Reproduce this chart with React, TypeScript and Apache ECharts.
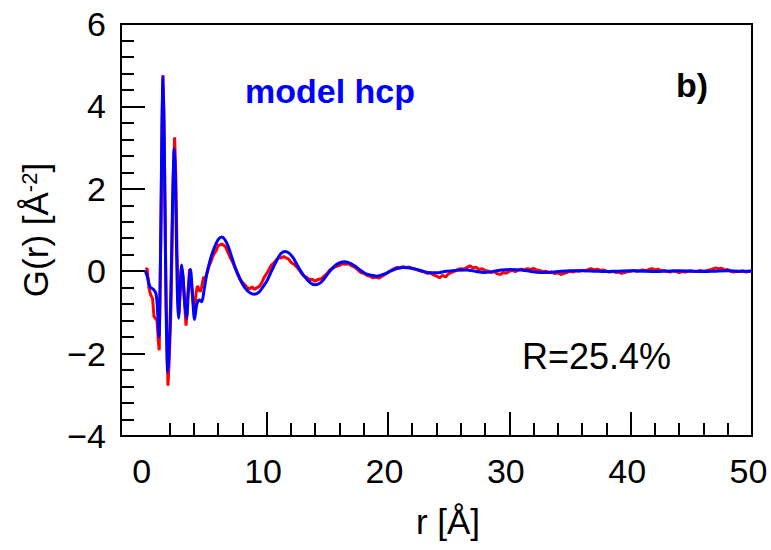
import React, { useEffect, useRef } from "react";
import * as echarts from "echarts";

const FONT = "'Liberation Sans', Arial, Helvetica, sans-serif";

// Experimental G(r) (red, noisy) as [r, G]
const redCurve: [number, number][] = [
  [0, 0.05], [0.15, 0.06], [0.3, -0.4], [0.45, -0.58], [0.6, -0.66], [0.72, -1.1], [0.85, -1.15], [0.97, -1.2],
  [1.08, -1.7], [1.15, -1.92], [1.22, -0.5], [1.3, 1.2], [1.38, 3.5], [1.46, 4.76], [1.54, 3.6], [1.62, 1.8],
  [1.72, -0.8], [1.87, -2.78], [1.97, -2.2], [2.1, -1.1], [2.2, 0.5], [2.3, 2.2], [2.42, 3.25], [2.52, 2.3],
  [2.62, 0.4], [2.78, -1.02], [2.88, -0.5], [2.97, 0.0], [3.1, -0.1], [3.22, -0.7], [3.36, -1.32], [3.5, -0.6],
  [3.65, 0.05], [3.8, -0.3], [3.95, -0.8], [4.06, -0.9], [4.18, -0.55], [4.29, -0.36], [4.4, -0.42], [4.53, -0.5],
  [4.65, -0.38], [4.8, -0.15], [4.95, -0.17], [5.1, -0.04], [5.25, 0.12], [5.4, 0.22], [5.55, 0.35], [5.7, 0.44],
  [5.85, 0.5], [6.0, 0.62], [6.15, 0.64], [6.3, 0.66], [6.45, 0.63], [6.6, 0.6], [6.75, 0.5], [6.9, 0.4],
  [7.05, 0.3], [7.2, 0.22], [7.4, 0.08], [7.6, -0.05], [7.8, -0.18], [8.0, -0.27], [8.2, -0.33], [8.4, -0.4],
  [8.6, -0.43], [8.8, -0.38], [9.0, -0.44], [9.2, -0.4], [9.4, -0.37], [9.6, -0.28], [9.8, -0.15], [10.0, -0.06],
  [10.2, 0.04], [10.4, 0.15], [10.6, 0.2], [10.8, 0.27], [11.0, 0.33], [11.2, 0.32], [11.4, 0.36], [11.6, 0.32],
  [11.8, 0.3], [12.0, 0.22], [12.25, 0.17], [12.5, 0.1], [12.75, 0.0], [13.0, -0.1], [13.25, -0.14], [13.5, -0.2],
  [13.75, -0.2], [14.0, -0.24], [14.25, -0.2], [14.5, -0.18], [14.75, -0.12], [15.0, -0.05], [15.25, 0.04], [15.5, 0.08],
  [15.75, 0.12], [16.0, 0.14], [16.25, 0.18], [16.5, 0.17], [16.75, 0.18], [17.0, 0.13], [17.25, 0.1], [17.5, 0.04],
  [17.75, -0.03], [18.0, -0.05], [18.25, -0.1], [18.5, -0.12], [18.75, -0.16], [19.0, -0.14], [19.25, -0.17], [19.5, -0.12],
  [19.75, -0.08], [20.0, -0.03], [20.25, 0.02], [20.5, 0.06], [20.75, 0.09], [21.0, 0.08], [21.25, 0.11], [21.5, 0.09],
  [21.75, 0.1], [22.0, 0.07], [22.25, 0.05], [22.5, 0.02], [22.75, 0.0], [23.0, -0.02], [23.25, -0.05], [23.5, -0.04],
  [23.75, -0.09], [24.0, -0.12], [24.25, -0.16], [24.5, -0.1], [24.75, -0.14], [25.0, -0.06], [25.25, -0.03], [25.5, 0.0],
  [25.75, 0.04], [26.0, 0.06], [26.25, 0.05], [26.5, 0.09], [26.75, 0.13], [27.0, 0.08], [27.25, 0.1], [27.5, 0.04],
  [27.75, 0.06], [28.0, 0.02], [28.25, 0.0], [28.5, -0.03], [28.75, -0.01], [29.0, -0.06], [29.25, -0.08], [29.5, -0.03],
  [29.75, -0.05], [30.0, 0.0], [30.25, 0.02], [30.5, -0.01], [30.75, 0.03], [31.0, 0.05], [31.25, 0.03], [31.5, 0.06],
  [31.75, 0.04], [32.0, 0.07], [32.25, 0.03], [32.5, 0.02], [32.75, -0.01], [33.0, 0.0], [33.25, -0.03], [33.5, -0.02],
  [33.75, -0.06], [34.0, -0.04], [34.25, -0.08], [34.5, -0.05], [34.75, -0.03], [35.0, 0.0], [35.25, -0.02], [35.5, 0.01],
  [35.75, 0.0], [36.0, 0.02], [36.25, 0.01], [36.5, 0.04], [36.75, 0.06], [37.0, 0.03], [37.25, 0.05], [37.5, 0.02],
  [37.75, 0.03], [38.0, 0.0], [38.25, -0.02], [38.5, 0.0], [38.75, -0.03], [39.0, -0.02], [39.25, -0.05], [39.5, -0.03],
  [39.75, -0.01], [40.0, 0.0], [40.25, 0.02], [40.5, 0.0], [40.75, 0.01], [41.0, 0.03], [41.25, 0.01], [41.5, 0.04],
  [41.75, 0.06], [42.0, 0.03], [42.25, 0.05], [42.5, 0.01], [42.75, 0.02], [43.0, 0.0], [43.25, -0.02], [43.5, 0.01],
  [43.75, -0.01], [44.0, -0.03], [44.25, -0.01], [44.5, -0.02], [44.75, 0.0], [45.0, 0.01], [45.25, -0.01], [45.5, 0.0],
  [45.75, 0.02], [46.0, 0.0], [46.25, 0.01], [46.5, 0.03], [46.75, 0.05], [47.0, 0.08], [47.25, 0.06], [47.5, 0.07],
  [47.75, 0.03], [48.0, 0.04], [48.25, 0.0], [48.5, -0.02], [48.75, 0.0], [49.0, -0.01], [49.25, 0.01], [49.5, -0.02],
  [49.75, 0.0], [50.0, 0.01],
];

// Model hcp G(r) (blue, smooth) as [r, G]
const blueCurve: [number, number][] = [
  [0, 0.02], [0.17, -0.13], [0.39, -0.38], [0.66, -0.44], [0.88, -0.54], [1.0, -0.9], [1.13, -1.59], [1.22, -0.4],
  [1.3, 1.5], [1.38, 3.6], [1.46, 4.72], [1.54, 3.7], [1.62, 1.6], [1.72, -0.9], [1.85, -2.45], [1.95, -2.0],
  [2.09, -0.8], [2.2, 0.9], [2.3, 2.3], [2.39, 2.98], [2.48, 2.3], [2.58, 0.5], [2.66, -0.7], [2.74, -1.14],
  [2.86, -0.5], [3.0, 0.15], [3.12, -0.15], [3.25, -0.75], [3.41, -1.14], [3.55, -0.5], [3.72, 0.05], [3.88, -0.5],
  [4.06, -1.17], [4.25, -0.8], [4.45, -0.7], [4.65, -0.74], [4.85, -0.45], [5.06, -0.08], [5.33, 0.25], [5.6, 0.5],
  [5.88, 0.7], [6.1, 0.8], [6.32, 0.83], [6.55, 0.77], [6.84, 0.6], [7.15, 0.32], [7.5, 0.02], [7.85, -0.22],
  [8.2, -0.4], [8.6, -0.52], [9.0, -0.56], [9.4, -0.5], [9.7, -0.38], [10.0, -0.25], [10.4, 0.0], [10.8, 0.24],
  [11.15, 0.42], [11.5, 0.48], [11.85, 0.44], [12.2, 0.32], [12.6, 0.11], [13.0, -0.08], [13.3, -0.19], [13.65, -0.29],
  [14.0, -0.33], [14.35, -0.3], [14.7, -0.2], [15.1, -0.04], [15.5, 0.1], [16.0, 0.2], [16.45, 0.23], [16.9, 0.19],
  [17.3, 0.12], [17.7, 0.03], [18.1, -0.05], [18.6, -0.1], [19.1, -0.12], [19.6, -0.08], [20.2, 0.0], [20.8, 0.07],
  [21.3, 0.09], [21.8, 0.08], [22.4, 0.04], [23.0, -0.01], [23.5, -0.04], [24.0, -0.04], [24.8, 0.0], [25.6, 0.02],
  [26.5, 0.03], [27.2, 0.0], [27.9, -0.03], [28.6, -0.01], [29.4, 0.03], [30.1, 0.04], [30.9, 0.03], [31.7, 0.0],
  [32.5, -0.03], [33.2, -0.03], [34.0, -0.01], [35.0, 0.01], [36.0, 0.01], [37.0, 0.0], [38.0, -0.01], [39.0, 0.0],
  [40.0, 0.01], [41.0, 0.0], [42.0, -0.01], [43.0, 0.0], [44.0, 0.01], [45.0, 0.0], [46.0, -0.01], [47.0, 0.0],
  [48.0, 0.01], [49.0, 0.0], [50.0, 0.0],
];

const xMajorTicks = [10, 20, 30, 40];
const xMinorTicks = [2, 4, 6, 8, 12, 14, 16, 18, 22, 24, 26, 28, 32, 34, 36, 38, 42, 44, 46, 48];
const xLabels = [0, 10, 20, 30, 40, 50];

const fmt = (v: number) => (v < 0 ? "\u2212" + Math.abs(v) : String(v));

export default function App() {
  const ref = useRef<HTMLDivElement>(null);
  useEffect(() => {
    if (!ref.current) return;
    const chart = echarts.init(ref.current, null, { renderer: "svg" });
    const black = "#000";
    chart.setOption({
      animation: false,
      backgroundColor: "#fff",
      grid: {
        left: 121, right: 19, top: 24, bottom: 114,
        show: true, borderColor: black, borderWidth: 2,
        containLabel: false, outerBoundsMode: "none",
      },
      xAxis: [
        {
          type: "value", min: -2, max: 50, position: "bottom",
          name: "r [Å]", nameLocation: "middle", nameGap: 68,
          nameTextStyle: { fontSize: 35, fontFamily: FONT, color: black, padding: [0, 0, 0, 23] },
          axisLine: { show: true, onZero: false, lineStyle: { color: black, width: 2 } },
          axisTick: { show: true, inside: true, length: 24, customValues: xMajorTicks, lineStyle: { color: black, width: 2 } },
          axisLabel: { customValues: xLabels, fontSize: 34, fontFamily: FONT, color: black, margin: 18, padding: [0, 7, 0, 0], formatter: fmt },
          splitLine: { show: false },
        },
        {
          type: "value", min: -2, max: 50, position: "bottom",
          axisLine: { show: false, onZero: false },
          axisTick: { show: true, inside: true, length: 13, customValues: xMinorTicks, lineStyle: { color: black, width: 2 } },
          axisLabel: { show: false },
          splitLine: { show: false },
        },
      ],
      yAxis: {
        type: "value", min: -4, max: 6, interval: 2,
        name: "G(r) [Å{sup|-2}]", nameLocation: "middle", nameGap: 68,
        nameTextStyle: {
          fontSize: 35, fontFamily: FONT, color: black,
          rich: { sup: { fontSize: 22, fontFamily: FONT, color: black, verticalAlign: "top" } },
        },
        axisLine: { show: true, onZero: false, lineStyle: { color: black, width: 2 } },
        axisTick: { show: true, inside: true, length: 24, lineStyle: { color: black, width: 2 } },
        minorTick: { show: true, splitNumber: 5, length: 13, lineStyle: { color: black, width: 2 } },
        axisLabel: { fontSize: 34, fontFamily: FONT, color: black, margin: 15, formatter: fmt },
        splitLine: { show: false },
        minorSplitLine: { show: false },
      },
      series: [
        {
          name: "experiment", type: "line", xAxisIndex: 0, data: redCurve, showSymbol: false,
          lineStyle: { color: "#ff0000", width: 3 }, itemStyle: { color: "#ff0000" }, clip: true,
        },
        {
          name: "model hcp", type: "line", xAxisIndex: 0, data: blueCurve, showSymbol: false, smooth: 0.3,
          lineStyle: { color: "#0000ff", width: 3 }, itemStyle: { color: "#0000ff" }, clip: true,
        },
      ],
      graphic: [
        { type: "text", x: 245, y: 90.6, style: { text: "model hcp", fill: "#0000ff", fontSize: 34, fontWeight: "bold", fontFamily: FONT, verticalAlign: "middle" } },
        { type: "text", x: 676, y: 85, style: { text: "b)", fill: black, fontSize: 34, fontWeight: "bold", fontFamily: FONT, verticalAlign: "middle" } },
        { type: "text", x: 522, y: 356, style: { text: "R=25.4%", fill: black, fontSize: 36, fontFamily: FONT, verticalAlign: "middle" } },
      ],
    });
    return () => chart.dispose();
  }, []);
  return <div ref={ref} style={{ position: "fixed", left: 0, top: 0, width: 771, height: 550 }} />;
}
